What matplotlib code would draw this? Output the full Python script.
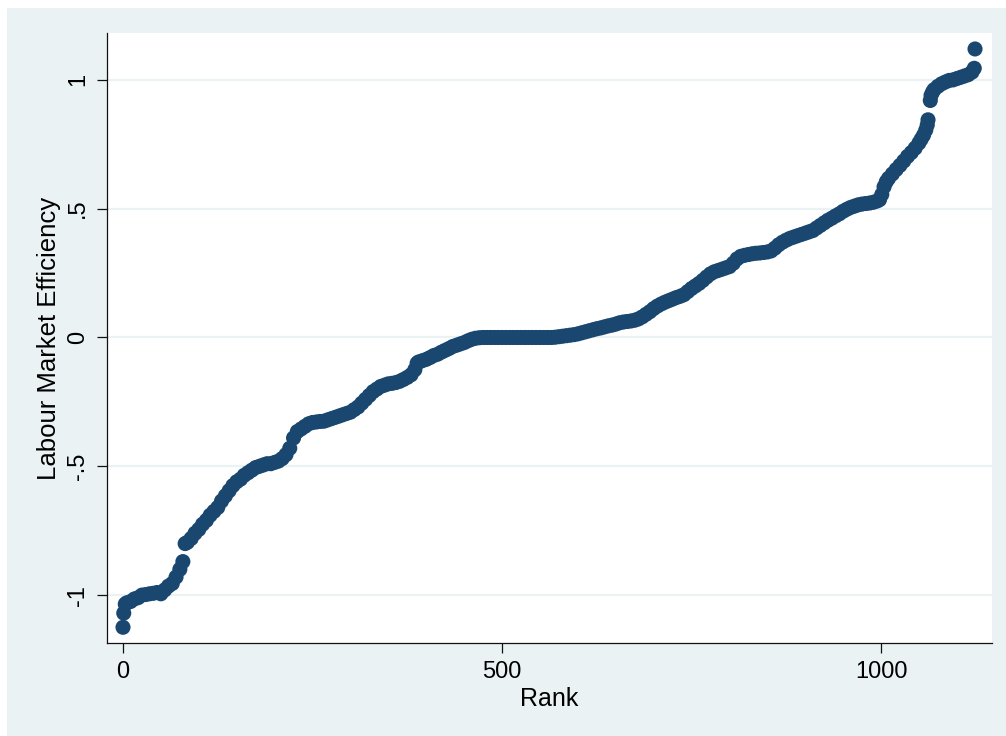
import matplotlib
matplotlib.use("Agg")
import matplotlib.pyplot as plt
from matplotlib.patches import Rectangle

# Ranked labour market efficiency scores (rank, value)
rank = [
    0, 1, 3, 5, 10, 15, 20, 25, 30, 35, 40, 45, 50, 55, 60, 65, 70, 75, 79,
    82, 85, 90, 95, 100, 105, 110, 115, 120, 125, 130, 135, 140, 145, 150,
    155, 160, 165, 170, 175, 180, 185, 190, 195, 200, 205, 210, 215, 220,
    225, 230, 235, 240, 245, 250, 255, 260, 265, 270, 275, 280, 285, 290,
    295, 300, 305, 310, 315, 320, 325, 330, 335, 340, 345, 350, 355, 360,
    365, 370, 375, 380, 385, 388, 390, 395, 400, 405, 410, 415, 420, 425,
    430, 435, 440, 445, 450, 455, 460, 465, 470,
    475, 480, 485, 490, 495, 500, 505, 510, 515, 520, 525, 530, 535, 540,
    545, 550, 555, 560, 565,
    570, 575, 580, 585, 590, 595, 600, 605, 610, 615, 620, 625, 630, 635,
    640, 645, 650, 655, 660, 665, 670, 675, 680, 685, 690, 695, 700, 705,
    710, 715, 720, 725, 730, 735, 740, 745, 750, 755, 760, 765, 770, 775,
    780, 785, 790, 795, 800, 805, 810, 815, 820, 825, 830, 835, 840, 845,
    850, 855, 860, 865, 870, 875, 880, 885, 890, 895, 900, 905, 910, 915,
    920, 925, 930, 935, 940, 945, 950, 955, 960, 965, 970, 975, 980, 985,
    990, 995, 998, 1001, 1004, 1007, 1010, 1015, 1020, 1025, 1030, 1035,
    1040, 1045, 1050, 1053, 1056, 1059, 1061, 1062,
    1065, 1066, 1068, 1070, 1075, 1080, 1085, 1090, 1095, 1100, 1105, 1110,
    1115, 1120, 1123, 1124,
]

efficiency = [
    -1.125, -1.07, -1.035, -1.03, -1.025, -1.015, -1.01, -1.0, -0.998,
    -0.995, -0.993, -0.99, -0.995, -0.98, -0.965, -0.955, -0.93, -0.9, -0.87,
    -0.80, -0.795, -0.78, -0.76, -0.745, -0.725, -0.71, -0.69, -0.675, -0.66,
    -0.635, -0.615, -0.595, -0.575, -0.56,
    -0.55, -0.535, -0.525, -0.515, -0.505, -0.50, -0.495, -0.49, -0.49,
    -0.485, -0.48, -0.47, -0.455, -0.43,
    -0.39, -0.365, -0.355, -0.345, -0.335, -0.33, -0.328, -0.326, -0.325,
    -0.32, -0.315, -0.31, -0.305, -0.30,
    -0.295, -0.29, -0.28, -0.27, -0.255, -0.24, -0.225, -0.21, -0.20, -0.19,
    -0.185, -0.18, -0.178, -0.175,
    -0.17, -0.163, -0.155, -0.145, -0.125, -0.10, -0.095, -0.09, -0.085,
    -0.078, -0.07, -0.065, -0.057, -0.05,
    -0.043, -0.035, -0.03, -0.025, -0.02, -0.013, -0.007, -0.003, -0.001,
    0.0, 0.0, 0.0, 0.0, 0.0, 0.0, 0.0, 0.0, 0.0, 0.0, 0.0, 0.0, 0.0, 0.0,
    0.0, 0.0, 0.0, 0.0, 0.0,
    0.001, 0.003, 0.005, 0.007, 0.009, 0.011, 0.014, 0.018, 0.022, 0.026,
    0.03, 0.034, 0.037, 0.041,
    0.045, 0.048, 0.052, 0.057, 0.06, 0.062, 0.064, 0.067, 0.072, 0.08,
    0.09, 0.10, 0.112, 0.122,
    0.13, 0.137, 0.143, 0.149, 0.155, 0.16, 0.166, 0.178, 0.19, 0.20, 0.21,
    0.222, 0.235, 0.247,
    0.255, 0.26, 0.265, 0.27, 0.275, 0.288, 0.305, 0.315, 0.319, 0.322,
    0.325, 0.327, 0.328, 0.33,
    0.332, 0.336, 0.347, 0.36, 0.37, 0.378, 0.385, 0.39, 0.395, 0.40, 0.405,
    0.41, 0.415, 0.425,
    0.435, 0.445, 0.455, 0.463, 0.472, 0.48, 0.49, 0.498, 0.505, 0.51,
    0.515, 0.518, 0.52, 0.522,
    0.525, 0.53, 0.535, 0.555, 0.585, 0.605, 0.618, 0.635, 0.652, 0.668,
    0.685, 0.703,
    0.718, 0.735, 0.755, 0.77, 0.785, 0.805, 0.825, 0.845,
    0.92, 0.94, 0.953, 0.962, 0.975, 0.985, 0.992, 0.998, 1.0, 1.005, 1.01,
    1.015, 1.02, 1.03, 1.045, 1.12,
]

x_ticks = [0, 500, 1000]
x_tick_labels = ["0", "500", "1000"]
y_ticks = [-1, -0.5, 0, 0.5, 1]
y_tick_labels = ["-1", "-.5", "0", ".5", "1"]

BG = "#EAF2F3"
NAVY = "#1A476F"

plt.rcParams["font.family"] = ["Liberation Sans", "DejaVu Sans"]

W, H = 1006, 736
fig = plt.figure(figsize=(W / 100, H / 100), dpi=100, facecolor="white")
# graph region background, drawn beneath the axes
fig.patches.append(Rectangle((7 / W, 0), 1 - 7 / W, 1 - 8 / H,
                             transform=fig.transFigure, facecolor=BG,
                             edgecolor="none", zorder=-10))

ax = fig.add_axes([107 / W, (H - 643) / H, (992 - 107) / W, (643 - 33) / H])
ax.set_zorder(1)
ax.set_facecolor("white")

ax.scatter(rank, efficiency, s=118, color=NAVY, edgecolors="none",
           zorder=3, clip_on=False)

ax.set_xlim(-21.1, 1146.4)
ax.set_ylim(-1.186, 1.182)

ax.set_xticks(x_ticks)
ax.set_xticklabels(x_tick_labels)
ax.set_yticks(y_ticks)
ax.set_yticklabels(y_tick_labels, rotation=90, va="center")

ax.grid(axis="y", color=BG, linewidth=1.6, zorder=1)
ax.grid(axis="x", visible=False)
ax.set_axisbelow(True)

for side in ("top", "right"):
    ax.spines[side].set_visible(False)
for side in ("left", "bottom"):
    ax.spines[side].set_color("#111111")
    ax.spines[side].set_linewidth(0.9)

ax.tick_params(axis="both", direction="out", length=7, width=0.9,
               color="#111111", labelsize=17, labelcolor="black", pad=6)

ax.set_xlabel("Rank", fontsize=18, labelpad=3)
ax.set_ylabel("Labour Market Efficiency", fontsize=18.5, labelpad=4)

fig.savefig("out.png", dpi=100, facecolor=fig.get_facecolor())
